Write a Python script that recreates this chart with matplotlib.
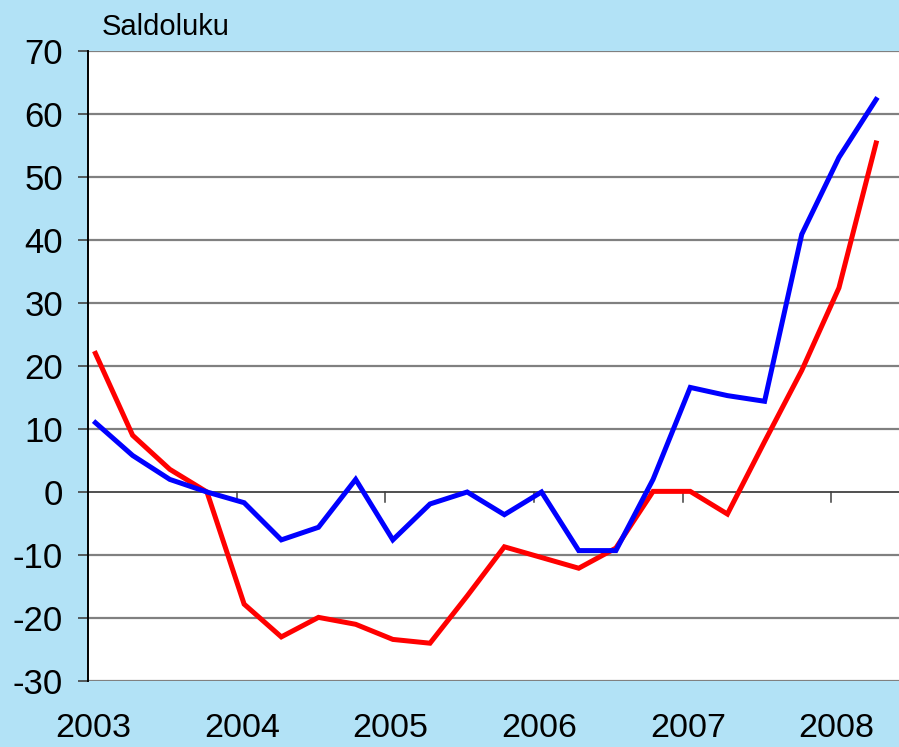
import matplotlib
matplotlib.use("Agg")
import matplotlib.pyplot as plt
import matplotlib.transforms as mtransforms

plt.rcParams['font.family'] = ['Liberation Sans', 'DejaVu Sans']

# quarterly observations 2003Q1 .. 2008Q2
periods = ["2003Q1", "2003Q2", "2003Q3", "2003Q4",
           "2004Q1", "2004Q2", "2004Q3", "2004Q4",
           "2005Q1", "2005Q2", "2005Q3", "2005Q4",
           "2006Q1", "2006Q2", "2006Q3", "2006Q4",
           "2007Q1", "2007Q2", "2007Q3", "2007Q4",
           "2008Q1", "2008Q2"]
blue_vals = [11, 5.8, 2, 0, -1.7, -7.6, -5.6, 2, -7.6, -1.9, 0, -3.6,
             0, -9.3, -9.3, 2, 16.6, 15.3, 14.4, 40.9, 53.1, 62.3]
red_vals = [22, 9, 3.6, 0, -17.8, -23, -19.9, -21, -23.4, -24, -16.5, -8.7,
            -10.4, -12.1, -8.9, 0.1, 0.1, -3.5, 8, 19.3, 32.4, 55.4]
years = [2003, 2004, 2005, 2006, 2007, 2008]
yticks = [-30, -20, -10, 0, 10, 20, 30, 40, 50, 60, 70]
ylabel = "Saldoluku"


def to_x(p):
    """turns '2004Q3' into a decimal year (points sit near start of quarter)"""
    y, q = p.split("Q")
    return int(y) + (int(q) - 1) * 0.25 + 0.05


xs = [to_x(p) for p in periods]

bg = '#b2e2f6'
fig = plt.figure(figsize=(8.99, 7.47), dpi=100, facecolor=bg)
ax = fig.add_axes([88 / 899, 66 / 747, 1 - 88 / 899, 630 / 747])
ax.set_facecolor('white')

for v in yticks:
    if v == 0:
        continue
    ax.axhline(v, color='#808080', lw=1.6, zorder=1)
ax.axhline(0, color='#505050', lw=1.4, zorder=1)

ax.plot(xs, red_vals, color='#ff0000', lw=3.6, solid_joinstyle='miter', zorder=3)
ax.plot(xs, blue_vals, color='#0000ff', lw=3.6, solid_joinstyle='miter', zorder=4)

ax.set_xlim(2003, 2003 + 811 / 148.7)
ax.set_ylim(-30, 70)

for s in ['top', 'right', 'bottom']:
    ax.spines[s].set_visible(False)
ax.spines['left'].set_color('black')
ax.spines['left'].set_linewidth(1.4)

ax.set_yticks(yticks)
ax.set_yticklabels([str(v) for v in yticks], fontsize=25)
ax.tick_params(axis='y', direction='out', length=7, width=1.2, color='#404040', pad=11)

# x ticks drawn on the zero line, labels under the plot area
ax.set_xticks([])
for yr in years[1:]:
    ax.plot([yr, yr], [0, -1.6], color='#404040', lw=1.1, zorder=2, clip_on=False)

trans = mtransforms.blended_transform_factory(ax.transData, ax.transAxes)
for yr in years:
    ax.text(yr + 0.035, -0.075, str(yr), transform=trans, ha='center', va='center',
            fontsize=24.5)

fig.text(102 / 899, 1 - 27 / 747, ylabel, ha='left', va='center', fontsize=21)

fig.savefig("out.png", dpi=100, facecolor=bg)
